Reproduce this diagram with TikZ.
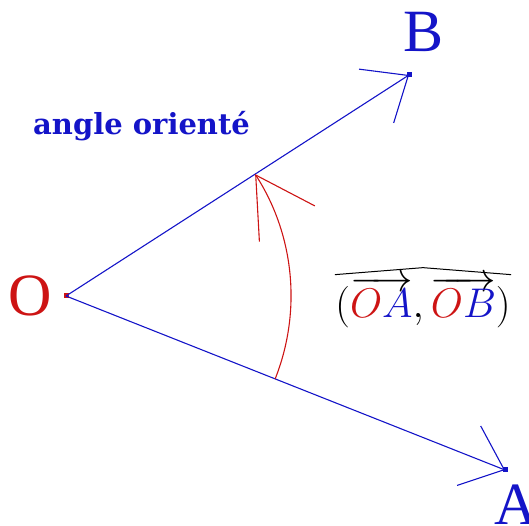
\documentclass[tikz,border=0pt]{standalone}
\usepackage{fontspec}
\setmainfont{Liberation Serif}
\newfontfamily\titlefont{DejaVu Serif}
\usepackage{tikz}
\usetikzlibrary{calc, positioning, arrows.meta}
\definecolor{vecblue}{RGB}{20,20,200}
\definecolor{ptred}{RGB}{205,20,20}

\begin{document}
\begin{tikzpicture}[x=1pt, y=1pt,
        dot/.style={rectangle, fill=#1, minimum size=5pt, inner sep=0pt},
        ray/.style={draw=vecblue, line width=1.1pt, -{Straight Barb[length=38pt, width=64pt]}},
        turn/.style={draw=ptred, line width=1.1pt, -{Straight Barb[length=58pt, width=66pt]}},
        pt_label/.style={inner sep=0pt, font=\fontsize{60}{60}\selectfont},
        title/.style={inner sep=0pt, text=vecblue, font=\titlefont\bfseries\fontsize{29}{32}\selectfont},
        angle_label/.style={inner sep=0pt, scale=2, transform shape, font=\fontsize{20}{22}\selectfont}
    ]
    \useasboundingbox (0,0) rectangle (529,526);

    % ================= Points =================
    \node[dot=ptred] (O) at (66, 230) {};
    \node[dot=vecblue] (B) at (409, 451) {};
    \node[dot=vecblue] (A) at (505, 56) {};

    \node[pt_label, text=ptred, left=11pt of O] (O_lab) {O};
    \node[pt_label, text=vecblue] (B_lab) at (424, 494) {B};
    \node[pt_label, text=vecblue] (A_lab) at (516, 21) {A};

    % ================= Vectors =================
    \draw[ray] (O.center) -- (B.center);
    \draw[ray] (O.center) -- (A.center);

    % Oriented arc from OA to OB
    \draw[turn] ([shift={(-21.62:225)}]O.center) arc[start angle=-21.62, end angle=32.8, radius=225];

    % ================= Labels =================
    \node[title, anchor=base west] (title) at (33, 391) {angle orienté};

    \node[angle_label] (vecs) at (423, 224) {$(\overrightarrow{\textcolor{ptred}{O}\textcolor{vecblue}{A}},\overrightarrow{\textcolor{ptred}{O}\textcolor{vecblue}{B}})$};
    \draw[line width=1pt] ([yshift=1pt]vecs.north west) -- ([yshift=8pt]vecs.north) -- ([yshift=1pt]vecs.north east);

\end{tikzpicture}
\end{document}
